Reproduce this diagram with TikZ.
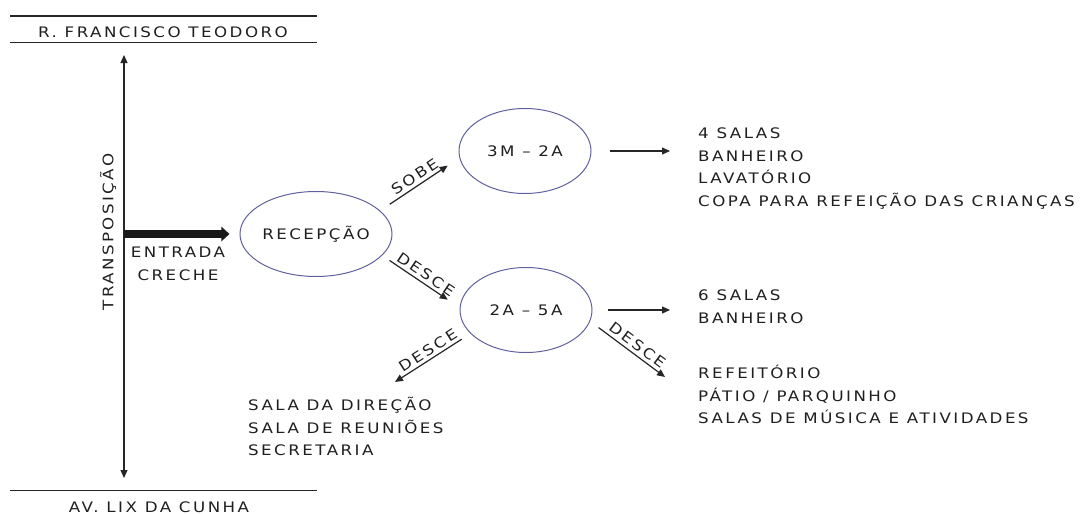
\documentclass[tikz,border=0pt]{standalone}
\usepackage[dvipsnames]{xcolor}
\usepackage{fontspec}
\newfontfamily\signfont{DejaVu Sans}[FakeStretch=1.15,LetterSpace=17]
\usepackage{tikz}
\usetikzlibrary{arrows.meta,shapes.geometric}

\begin{document}
\begin{tikzpicture}[x=1pt, y=-1pt]
      \tikzstyle{lettering}=[font=\signfont\fontsize{14.5}{22.5}\selectfont, text=black!88, inner sep=0pt]
      \tikzstyle{level}=[lettering, ellipse, draw=gray!75!blue, line width=1pt,
                         minimum width=132pt, minimum height=85pt]
      \tikzstyle{stair}=[black!85, line width=1.2pt, -{Triangle[length=8pt, width=7pt]}]
      \tikzstyle{tag}=[lettering, sloped, above, inner sep=3pt]
      \tikzstyle{road}=[black!85, line width=1.4pt]

      \useasboundingbox (0, 0) rectangle (1087, 514);

      %streets
      \draw[road] (10, 16) -- (317, 16);
      \draw[road] (10, 42.5) -- (317, 42.5);
      \draw[road] (10, 490.5) -- (317, 490.5);
      \node[lettering] (rfrancisco) at (163, 32) {R. FRANCISCO TEODORO};
      \node[lettering] (avlix) at (159, 507) {AV. LIX DA CUNHA};

      \coordinate (northend) at (124, 55);
      \coordinate (southend) at (124, 478);
      \draw[stair, {Triangle[length=8pt, width=7pt]}-{Triangle[length=8pt, width=7pt]}]
         (northend) -- (southend);
      \node[lettering, rotate=90] (transp) at (108, 232) {TRANSPOSIÇÃO};

      %levels of the building
      \node[level] (recep) at (316, 234) {RECEPÇÃO};
      \node[level] (infant) at (525, 151) {3M – 2A};
      \node[level] (toddler) at (526, 310) {2A – 5A};

      \draw[black!90, line width=7.5pt, -{Triangle[length=8pt, width=14pt]}, shorten >=10pt]
         (recep.west -| northend) -- (recep.west);
      \node[lettering, align=center] (entrada) at (178, 264) {ENTRADA\\CRECHE};

      %what each floor holds
      \node[lettering, align=left, anchor=north west] (rooms3m) at (698, 125.3)
         {\vphantom{Á}4 SALAS\\BANHEIRO\\LAVATÓRIO\\COPA PARA REFEIÇÃO DAS CRIANÇAS};
      \node[lettering, align=left, anchor=north west] (rooms2a) at (698, 287.3)
         {\vphantom{Á}6 SALAS\\BANHEIRO};
      \node[lettering, align=left, anchor=north west] (yard) at (698, 365.3)
         {\vphantom{Á}REFEITÓRIO\\PÁTIO / PARQUINHO\\SALAS DE MÚSICA E ATIVIDADES};
      \node[lettering, align=left, anchor=north west] (admin) at (248, 397.3)
         {\vphantom{Á}SALA DA DIREÇÃO\\SALA DE REUNIÕES\\SECRETARIA};

      \coordinate (admintip) at (395, 382);
      \coordinate (yardtip) at (665, 377);

      \draw[stair, shorten <=11.5pt, shorten >=14pt] (recep.20) -- node[tag] {SOBE} (infant.186);
      \draw[stair, shorten <=8.8pt, shorten >=14.3pt] (recep.-18) -- node[tag] {DESCE} (toddler.178);
      \draw[stair, shorten <=10.3pt] (toddler.203) -- node[tag] {DESCE} (admintip);
      \draw[stair, shorten <=10.5pt] (toddler.-10) -- node[tag, pos=.56] {DESCE} (yardtip);

      \draw[stair, shorten <=18pt, shorten >=28pt] (infant.east) -- (infant.east -| rooms3m.west);
      \draw[stair, shorten <=15pt, shorten >=28pt] (toddler.east) -- (toddler.east -| rooms2a.west);

\end{tikzpicture}
\end{document}
